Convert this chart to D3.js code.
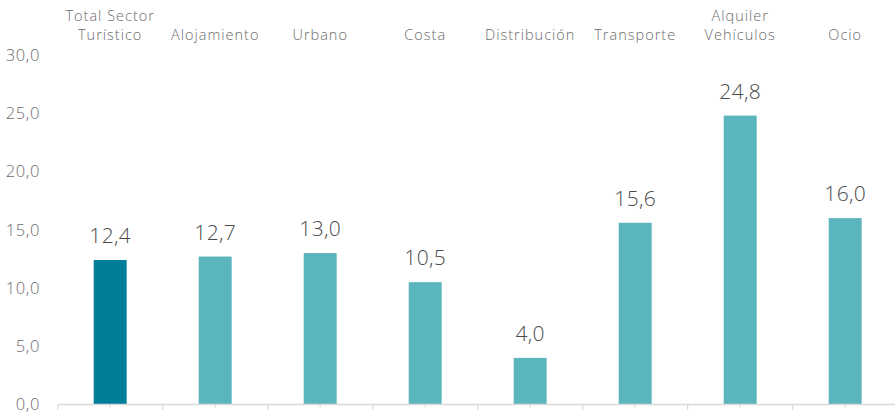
<!DOCTYPE html>
<html>
<head>
<meta charset="utf-8">
<script src="https://cdn.jsdelivr.net/npm/d3@7"></script>
<style>
  body { margin: 0; background: #fff; }
  text { font-family: "Open Sans", "DejaVu Sans", sans-serif; font-weight: 300; }
</style>
</head>
<body>
<svg id="chart" width="895" height="419"></svg>
<script>
// data
var categories = [["Total Sector", "Turístico"], ["Alojamiento"], ["Urbano"], ["Costa"],
                  ["Distribución"], ["Transporte"], ["Alquiler", "Vehículos"], ["Ocio"]];
var values = [12.4, 12.7, 13.0, 10.5, 4.0, 15.6, 24.8, 16.0];
var yTicks = [0, 5, 10, 15, 20, 25, 30];

var svg = d3.select("#chart");
var fmt = function (v) { return v.toFixed(1).replace(".", ","); };

var x = d3.scaleBand()
    .domain(d3.range(values.length))
    .range([57.7, 897.7])
    .paddingInner(0.686)
    .paddingOuter(0.343);

var band = d3.scaleBand().domain(d3.range(values.length)).range([57.7, 897.7]); // full category slots
var y = d3.scaleLinear().domain([0, 30]).range([404.5, 55]);

// y tick labels (no axis line)
svg.append("g").selectAll("text")
    .data(yTicks)
    .enter().append("text")
    .attr("x", 40)
    .attr("y", function (d) { return y(d); })
    .attr("dy", "0.35em")
    .attr("text-anchor", "end")
    .attr("fill", "#6b6b6b")
    .style("font-size", "16.5px")
    .style("letter-spacing", "0.6px")
    .text(fmt);

// bars
svg.append("g").selectAll("rect")
    .data(values)
    .enter().append("rect")
    .attr("x", function (d, i) { return x(i); })
    .attr("y", function (d) { return y(d); })
    .attr("width", x.bandwidth())
    .attr("height", function (d) { return y(0) - y(d); })
    .attr("fill", function (d, i) { return i === 0 ? "#007e99" : "#5bb5bd"; });

// value labels
svg.append("g").selectAll("text")
    .data(values)
    .enter().append("text")
    .attr("x", function (d, i) { return x(i) + x.bandwidth() / 2; })
    .attr("y", function (d) { return y(d) - 17; })
    .attr("text-anchor", "middle")
    .attr("fill", "#4a4a4a")
    .style("font-size", "21px")
    .style("letter-spacing", "0.3px")
    .text(fmt);

// baseline with major / minor ticks
var axis = svg.append("g");
axis.append("line")
    .attr("x1", band.range()[0]).attr("x2", 895)
    .attr("y1", y(0)).attr("y2", y(0))
    .attr("stroke", "#d9d9d9").attr("stroke-width", 1.5);
axis.selectAll("line.major")
    .data(d3.range(values.length))
    .enter().append("line")
    .attr("class", "major")
    .attr("x1", function (i) { return band(i); }).attr("x2", function (i) { return band(i); })
    .attr("y1", y(0)).attr("y2", y(0) + 5.5)
    .attr("stroke", "#d9d9d9").attr("stroke-width", 1.2);
axis.selectAll("line.minor")
    .data(d3.range(values.length))
    .enter().append("line")
    .attr("class", "minor")
    .attr("x1", function (i) { return band(i) + band.bandwidth() / 2; })
    .attr("x2", function (i) { return band(i) + band.bandwidth() / 2; })
    .attr("y1", y(0)).attr("y2", y(0) + 3)
    .attr("stroke", "#d9d9d9").attr("stroke-width", 1.2);

// category labels across the top, one text per line
svg.append("g").selectAll("text")
    .data(categories.flatMap(function (lines, i) {
        return lines.map(function (s, j) { return { i: i, s: s, up: lines.length - 1 - j }; });
    }))
    .enter().append("text")
    .attr("x", function (d) { return band(d.i) + band.bandwidth() / 2; })
    .attr("y", function (d) { return 40 - d.up * 19; })
    .attr("text-anchor", "middle")
    .attr("fill", "#6b6b6b")
    .style("font-size", "14.5px")
    .style("letter-spacing", "1px")
    .text(function (d) { return d.s; });
</script>
</body>
</html>
